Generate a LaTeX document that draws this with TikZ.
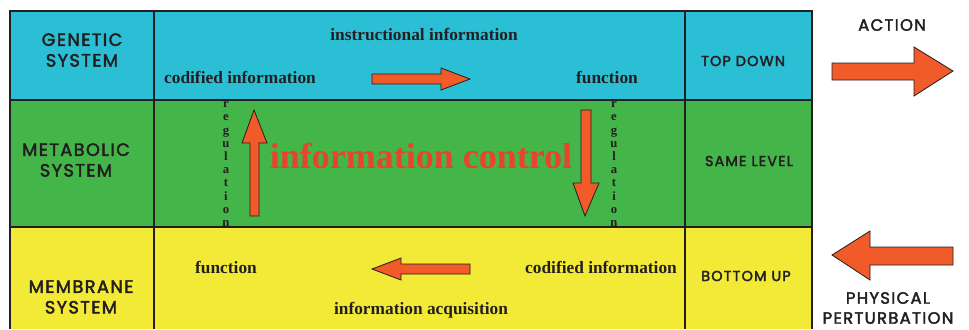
\documentclass[tikz,border=0pt]{standalone}
\usepackage{fontspec}
\setmainfont{Liberation Serif}
\newfontfamily\labelfont{Poppins}[LetterSpace=8,FakeBold=2.5]
\definecolor{genetic}{HTML}{2BBFD6}
\definecolor{metabolic}{HTML}{44B549}
\definecolor{membrane}{HTML}{F2EA37}
\definecolor{arrowfill}{HTML}{F15A29}
\definecolor{ctrlred}{HTML}{E8432D}
\definecolor{ink}{HTML}{231F20}
\tikzset{
  sysname/.style={font=\labelfont\fontsize{13.3}{15.5}\selectfont, align=center, text=ink, inner sep=0pt},
  levelname/.style={font=\labelfont\fontsize{10.8}{12}\selectfont, text=ink, inner sep=0pt},
  sidename/.style={font=\labelfont\fontsize{12.3}{15}\selectfont, align=center, text=ink, inner sep=0pt},
  note/.style={font=\bfseries\fontsize{13}{14}\selectfont, text=ink, inner sep=0pt},
  vertword/.style={font=\bfseries\fontsize{9.5}{9.9}\selectfont, text=ink, align=center, inner sep=0pt},
  blockarrow/.style={fill=arrowfill, draw=ink, line width=0.6pt, line join=miter},
  grid/.style={draw=ink, line width=0.8pt}
}
\begin{document}
\begin{tikzpicture}[x=0.75pt,y=-0.75pt]
\useasboundingbox (0,0) rectangle (969,329);
% three bands of the table
\fill[genetic]   (10,11)  rectangle (812,100);
\fill[metabolic] (10,100) rectangle (812,227);
\fill[membrane]  (10,227) rectangle (812,329);
\draw[grid] (10,329) -- (10,11) -- (812,11) -- (812,329);
\draw[grid] (10,100) -- (812,100);
\draw[grid] (10,227) -- (812,227);
\draw[grid] (154,11) -- (154,329);
\draw[grid] (685,11) -- (685,329);

% system names
\node[sysname] (gen) at (82,50) {GENETIC\\SYSTEM};
\node[sysname] (met) at (76,160) {METABOLIC\\SYSTEM};
\node[sysname] (mem) at (81,297) {MEMBRANE\\SYSTEM};

% level column
\node[levelname] (top) at (743,61) {TOP DOWN};
\node[levelname] (same) at (749,161) {SAME LEVEL};
\node[levelname] (bot) at (746,276) {BOTTOM UP};

% genetic band
\node[note] (instr) at (424,34) {instructional information};
\node[note] (gcod) at (240,77) {codified information};
\node[note] (gfun) at (607,77) {function};
\draw[blockarrow] (372,74) -- (441,74) -- (441,68) -- (470,79) -- (441,90) -- (441,84) -- (372,84) -- cycle;

% metabolic band
\node[font=\bfseries\fontsize{27}{30}\selectfont, text=ctrlred, inner sep=0pt] (ctrl) at (421,156) {information control};
\draw[blockarrow] (250,216) -- (250,143) -- (242,143) -- (254,110) -- (267,143) -- (259,143) -- (259,216) -- cycle;
\draw[blockarrow] (581,110) -- (591,110) -- (591,183) -- (599,183) -- (585,216) -- (573,183) -- (581,183) -- cycle;
\node[vertword] (regl) at (226,164) {r\\e\\g\\u\\l\\a\\t\\i\\o\\n};
\node[vertword] (regr) at (614,164) {r\\e\\g\\u\\l\\a\\t\\i\\o\\n};

% membrane band
\node[note] (mfun) at (226,267) {function};
\node[note] (mcod) at (601,267) {codified information};
\node[note] (acq) at (421,310) {information acquisition};
\draw[blockarrow] (470,264) -- (401,264) -- (401,258) -- (372,269) -- (401,280) -- (401,274) -- (470,274) -- cycle;

% outside the table
\node[sidename] (action) at (892,25) {ACTION};
\draw[blockarrow] (832,63) -- (914,63) -- (914,47) -- (953,71) -- (914,96) -- (914,80) -- (832,80) -- cycle;
\draw[blockarrow] (953,247) -- (870,247) -- (870,231) -- (832,255) -- (870,280) -- (870,265) -- (953,265) -- cycle;
\node[sidename] (pert) at (888,308) {PHYSICAL\\PERTURBATION};
\end{tikzpicture}
\end{document}
